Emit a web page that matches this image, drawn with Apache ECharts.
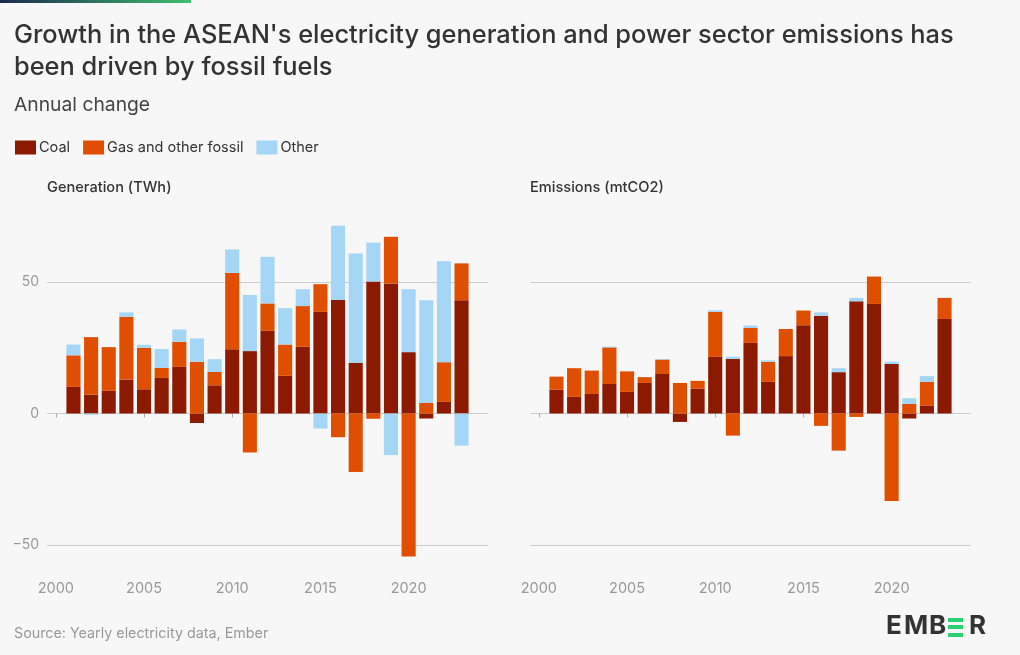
<!DOCTYPE html>
<html><head><meta charset="utf-8">
<script src="https://cdn.jsdelivr.net/npm/echarts@6/dist/echarts.min.js"></script>
<style>html,body{margin:0;padding:0;background:#f7f7f7;}#c{width:1020px;height:655px;}</style>
</head><body><div id="c"></div>
<script>
const years = ['2000','2001','2002','2003','2004','2005','2006','2007','2008','2009','2010','2011','2012','2013','2014','2015','2016','2017','2018','2019','2020','2021','2022','2023','2024'];
const genCoal  = [null, 10.1, 7.2, 8.6, 12.9, 9.2, 13.5, 17.7, -3.6, 10.7, 24.4, 23.7, 31.4, 14.3, 25.3, 38.6, 43.1, 19.2, 50.1, 49.4, 23.3, -1.9, 4.4, 43.0, null];
const genGas   = [null, 12.0, 21.8, 16.6, 23.8, 15.7, 3.8, 9.5, 19.6, 5.1, 29.0, -14.8, 10.4, 11.9, 15.5, 10.5, -9.0, -22.2, -2.0, 17.7, -54.3, 4.0, 15.1, 14.0, null];
const genOther = [null, 4.1, -0.5, 0, 1.7, 1.2, 7.2, 4.7, 8.9, 4.8, 8.9, 21.3, 17.7, 13.8, 6.4, -5.7, 28.2, 41.6, 14.8, -15.8, 23.9, 39.0, 38.3, -12.2, null];
const emCoal   = [null, 9.0, 6.3, 7.4, 11.2, 8.2, 11.6, 15.0, -3.2, 9.5, 21.5, 20.7, 26.8, 12.0, 21.8, 33.5, 37.1, 15.7, 42.6, 41.6, 18.8, -1.9, 2.9, 35.9, null];
const emGas    = [null, 5.0, 10.9, 8.9, 13.9, 7.8, 2.2, 5.5, 11.6, 2.9, 17.1, -8.4, 5.7, 7.6, 10.3, 5.6, -4.7, -14.1, -1.3, 10.4, -33.2, 3.6, 9.1, 8.0, null];
const emOther  = [null, 0, 0, 0, 0.3, 0, 0, 0.2, 0, 0, 0.6, 0.9, 0.9, 0.6, 0, 0, 1.3, 1.5, 1.3, 0, 0.9, 2.2, 2.2, 0, null];
const yTicks = [-50, 0, 50];
const seriesNames = ['Coal', 'Gas and other fossil', 'Other'];

const FONT = 'Inter, "Noto Sans", sans-serif';
const colors = ['#8b1a00', '#e04e00', '#a5d6f5'];
const ch = echarts.init(document.getElementById('c'));

function xAxis(gi) {
  return {
    type: 'category', gridIndex: gi, data: years,
    axisLine: { show: false },
    axisTick: { show: true, alignWithLabel: true, length: 4, lineStyle: { color: '#aaa' }, interval: (i) => i % 5 === 0 },
    axisLabel: { interval: (i) => i % 5 === 0, color: '#999', fontSize: 14.5, fontFamily: FONT, margin: 10 }
  };
}
function yAxis(gi, showLabels) {
  return {
    type: 'value', gridIndex: gi, min: -60, max: 75,
    axisLine: { show: false },
    axisTick: { show: false, customValues: yTicks },
    splitLine: { show: true, lineStyle: { color: '#cccccc', width: 1 } },
    axisLabel: { show: showLabels, customValues: yTicks, color: '#999', fontSize: 14, fontFamily: FONT, margin: 8,
      formatter: (v) => v < 0 ? '\u2212' + Math.abs(v) : String(v) }
  };
}
function bars(name, data, gi, ci) {
  return { name, type: 'bar', stack: 's' + gi, xAxisIndex: gi, yAxisIndex: gi, data,
    barWidth: '80%', itemStyle: { color: colors[ci] }, emphasis: { disabled: true } };
}
const logoFont = '700 26px ' + FONT;
const green = '#2ccf72';

ch.setOption({
  backgroundColor: '#f7f7f7',
  animation: false,
  textStyle: { fontFamily: FONT },
  legend: {
    left: 10, top: 135, icon: 'rect', itemWidth: 21, itemHeight: 14, itemGap: 13,
    data: seriesNames,
    textStyle: { color: '#333', fontSize: 14.5, fontFamily: FONT, padding: [0, 0, 0, -2] }
  },
  grid: [
    { left: 47, width: 441, top: 216, height: 355.5 },
    { left: 530, width: 441, top: 216, height: 355.5 }
  ],
  xAxis: [xAxis(0), xAxis(1)],
  yAxis: [yAxis(0, true), yAxis(1, false)],
  series: [
    bars(seriesNames[0], genCoal, 0, 0), bars(seriesNames[1], genGas, 0, 1), bars(seriesNames[2], genOther, 0, 2),
    bars(seriesNames[0], emCoal, 1, 0), bars(seriesNames[1], emGas, 1, 1), bars(seriesNames[2], emOther, 1, 2)
  ],
  graphic: [
    { type: 'rect', left: 0, top: 0, shape: { width: 191, height: 3 },
      style: { fill: new echarts.graphic.LinearGradient(0, 0, 1, 0, [{ offset: 0, color: '#1c2a4f' }, { offset: 1, color: '#3fbf6f' }]) } },
    { type: 'text', left: 14, top: 19, style: { text: "Growth in the ASEAN's electricity generation and power sector emissions has\nbeen driven by fossil fuels",
      fill: '#333', font: '500 25.4px ' + FONT, lineHeight: 32 } },
    { type: 'text', left: 14, top: 96, style: { text: 'Annual change', fill: '#444', font: '400 19.3px ' + FONT } },
    { type: 'text', left: 47, top: 180, style: { text: 'Generation (TWh)', fill: '#333', font: '500 14.6px ' + FONT } },
    { type: 'text', left: 530, top: 180, style: { text: 'Emissions (mtCO2)', fill: '#333', font: '500 14.6px ' + FONT } },
    { type: 'text', left: 14, top: 627, style: { text: 'Source: Yearly electricity data, Ember', fill: '#999', font: '400 14.3px ' + FONT } },
    { type: 'text', left: 886, top: 613, style: { text: 'E', fill: '#333', font: logoFont } },
    { type: 'text', left: 904, top: 613, style: { text: 'M', fill: '#333', font: logoFont } },
    { type: 'text', left: 929, top: 613, style: { text: 'B', fill: '#333', font: logoFont } },
    { type: 'rect', left: 948, top: 618, shape: { width: 15, height: 4 }, style: { fill: green } },
    { type: 'rect', left: 948, top: 625, shape: { width: 15, height: 4 }, style: { fill: green } },
    { type: 'rect', left: 948, top: 633, shape: { width: 15, height: 4 }, style: { fill: green } },
    { type: 'text', left: 969, top: 613, style: { text: 'R', fill: '#333', font: logoFont } }
  ]
});
</script></body></html>
